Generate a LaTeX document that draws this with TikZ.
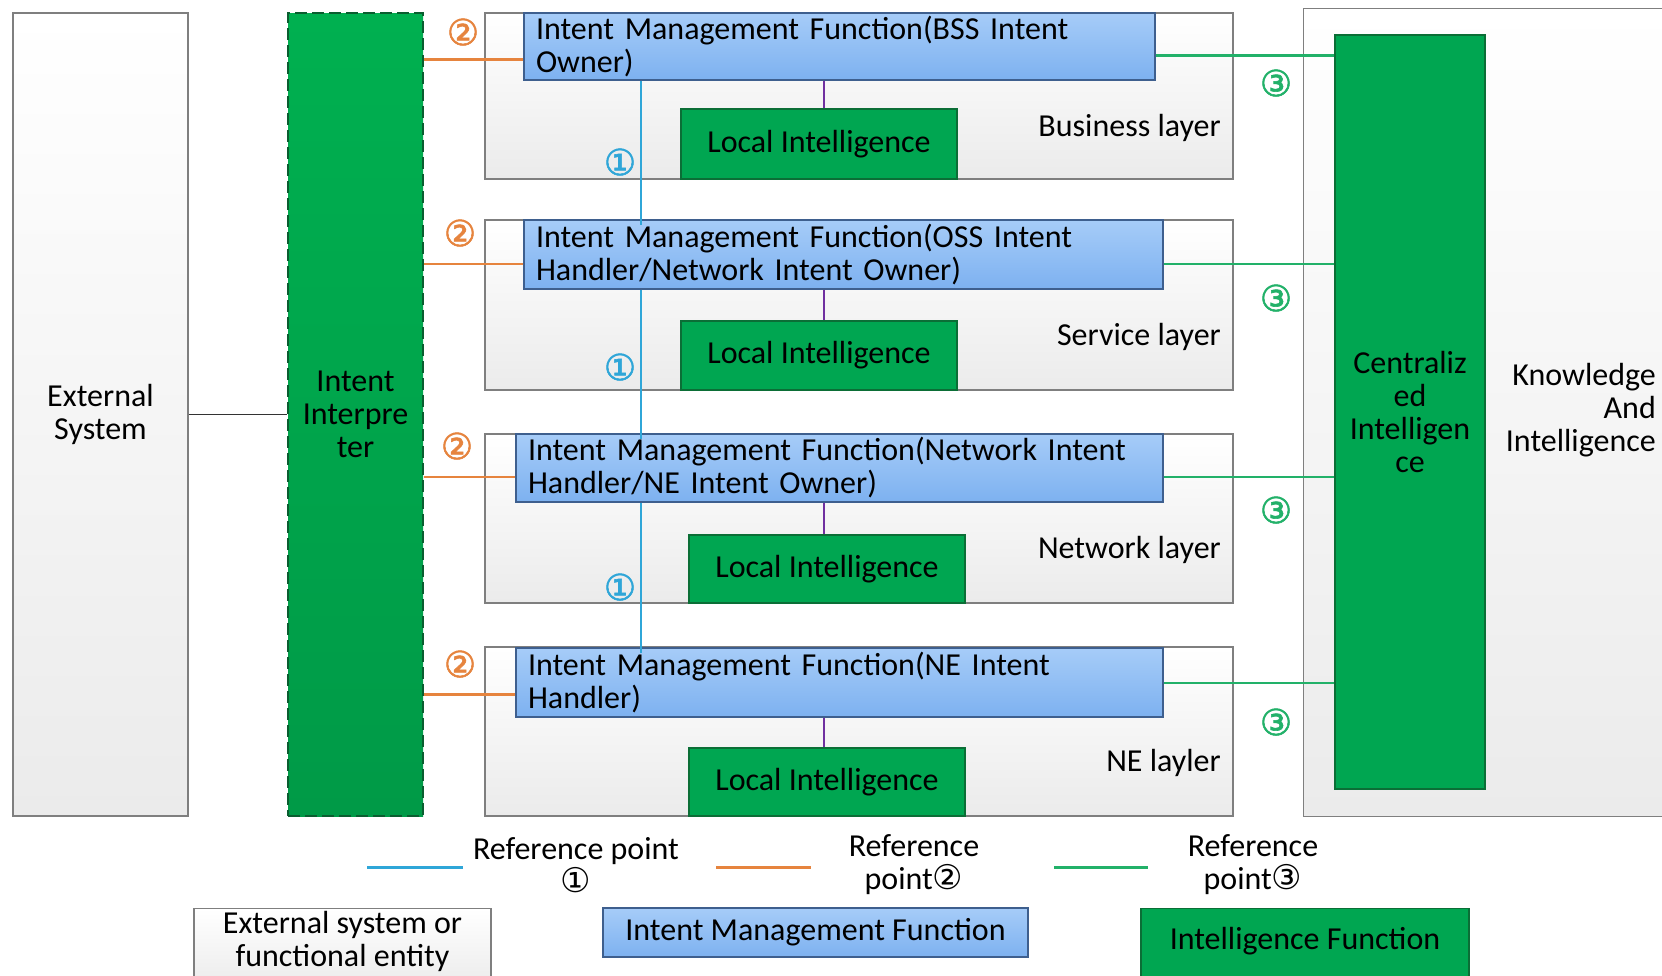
\documentclass[tikz,border=0pt]{standalone}
\usepackage{fontspec}
\setmainfont{Carlito}
\newfontfamily\circfont{DejaVu Sans}
\newfontfamily\circheavy[FakeBold=1.6]{DejaVu Sans}
\usetikzlibrary{calc}

\definecolor{boxedge}{HTML}{7F7F7F}
\definecolor{grayfoot}{HTML}{EBEBEB}
\definecolor{imftop}{HTML}{A6CCF8}
\definecolor{imfbot}{HTML}{7DB1F0}
\definecolor{imfedge}{HTML}{3E5F8E}
\definecolor{ligreen}{HTML}{00A651}
\definecolor{liedge}{HTML}{0B6E36}
\definecolor{iitop}{HTML}{00B050}
\definecolor{iibot}{HTML}{009A47}
\definecolor{iiedge}{HTML}{0A5E30}
\definecolor{refA}{HTML}{2FA6D8}
\definecolor{refB}{HTML}{E6843E}
\definecolor{refC}{HTML}{22B169}
\definecolor{linkpurple}{HTML}{7030A0}

\tikzset{
  graybox/.style={draw=boxedge, line width=1.3pt, top color=white, bottom color=grayfoot, inner sep=0pt},
  imfbox/.style={draw=imfedge, line width=1.3pt, top color=imftop, bottom color=imfbot,
    inner xsep=12pt, inner ysep=0pt, align=left},
  libox/.style={draw=liedge, line width=1.2pt, fill=ligreen, inner sep=0pt, align=center},
  iibox/.style={draw=iiedge, line width=1.5pt, dash pattern=on 12pt off 5pt,
    top color=iitop, bottom color=iibot, inner sep=0pt, align=center},
  lineA/.style={draw=refA, line width=2.3pt},
  lineB/.style={draw=refB, line width=2.3pt},
  lineC/.style={draw=refC, line width=2.3pt},
  linkP/.style={draw=linkpurple, line width=1.6pt},
  cnum/.style={font=\circheavy\fontsize{36}{36}\selectfont, inner sep=0pt},
  legline/.style={line width=3pt},
}

\begin{document}
\begin{tikzpicture}[x=1pt, y=-1pt, font=\fontsize{32}{33}\selectfont]
\useasboundingbox (0,0) rectangle (1662,975);
\fill[white] (0,0) rectangle (1662,975);

% outer entities
\node[graybox, minimum width=175pt, minimum height=803pt, align=center] (ext) at (100.5,414.5) {External\\System};
\node[iibox, minimum width=135pt, minimum height=803pt] (ii) at (355.5,414.5) {Intent\\Interpre\\ter};
\node[graybox, anchor=north west, minimum width=380pt, minimum height=808pt] (kai) at (1303,8) {};
\node[anchor=east, align=right, inner sep=0pt] (kaitxt) at (1656,410) {Knowledge\\And\\Intelligence};
\node[libox, minimum width=150pt, minimum height=754pt] (ci) at (1410,412) {Centraliz\\ed\\Intelligen\\ce};

% layer frames
\node[graybox, minimum width=748pt, minimum height=166pt] (lay1) at (859,96) {};
\node[graybox, minimum width=748pt, minimum height=170pt] (lay2) at (859,305) {};
\node[graybox, minimum width=748pt, minimum height=169pt] (lay3) at (859,518.5) {};
\node[graybox, minimum width=748pt, minimum height=169pt] (lay4) at (859,731.5) {};

\node[anchor=east, inner sep=0pt] (lbl1) at (1221,128) {Business layer};
\node[anchor=east, inner sep=0pt] (lbl2) at (1221,337) {Service layer};
\node[anchor=east, inner sep=0pt] (lbl3) at (1221,550) {Network layer};
\node[anchor=east, inner sep=0pt] (lbl4) at (1221,763) {NE layler};

% intent management functions
\node[imfbox, minimum width=631pt, minimum height=67pt, text width=607pt] (bss) at (839.5,46.5)
  {Intent Management Function(BSS Intent\\Owner)};
\node[imfbox, minimum width=639pt, minimum height=69pt, text width=615pt] (oss) at (843.5,254.5)
  {Intent Management Function(OSS Intent\\Handler/Network Intent Owner)};
\node[imfbox, minimum width=647pt, minimum height=68pt, text width=623pt] (net) at (839.5,468)
  {Intent Management Function(Network Intent\\Handler/NE Intent Owner)};
\node[imfbox, minimum width=647pt, minimum height=69pt, text width=623pt] (ne) at (839.5,682.5)
  {Intent Management Function(NE Intent\\Handler)};

% local intelligence
\node[libox, minimum width=276pt, minimum height=70pt] (li1) at (819,144) {Local Intelligence};
\node[libox, minimum width=276pt, minimum height=69pt] (li2) at (819,355.5) {Local Intelligence};
\node[libox, minimum width=276pt, minimum height=68pt] (li3) at (827,569) {Local Intelligence};
\node[libox, minimum width=276pt, minimum height=68pt] (li4) at (827,782) {Local Intelligence};

% IMF to local intelligence
\coordinate (px) at (824,0);
\draw[linkP] (px |- bss.south) -- (px |- li1.north);
\draw[linkP] (px |- oss.south) -- (px |- li2.north);
\draw[linkP] (px |- net.south) -- (px |- li3.north);
\draw[linkP] (px |- ne.south) -- (px |- li4.north);

% external system to interpreter
\draw[line width=1.8pt, draw=black!80] (ext.east) -- (ii.west);

% reference point 1: between IMFs
\coordinate (vx) at (641,0);
\draw[lineA] (vx |- bss.south) -- ($(vx |- oss.north)+(0,6)$);
\draw[lineA] (vx |- oss.south) -- ($(vx |- net.north)+(0,6)$);
\draw[lineA] (vx |- net.south) -- ($(vx |- ne.north)+(0,6)$);

% reference point 2: interpreter to IMFs
\draw[lineB] ($(bss.north west)!.69!(bss.south west)$) coordinate (o1) -- (o1 -| ii.east);
\draw[lineB] ($(oss.north west)!.64!(oss.south west)$) coordinate (o2) -- (o2 -| ii.east);
\draw[lineB] ($(net.north west)!.63!(net.south west)$) coordinate (o3) -- (o3 -| ii.east);
\draw[lineB] ($(ne.north west)!.67!(ne.south west)$) coordinate (o4) -- (o4 -| ii.east);

% reference point 3: IMFs to centralized intelligence
\draw[lineC] ($(bss.north east)!.63!(bss.south east)$) coordinate (g1) -- (g1 -| ci.west);
\draw[lineC] ($(oss.north east)!.64!(oss.south east)$) coordinate (g2) -- (g2 -| ci.west);
\draw[lineC] ($(net.north east)!.63!(net.south east)$) coordinate (g3) -- (g3 -| ci.west);
\draw[lineC] ($(ne.north east)!.51!(ne.south east)$) coordinate (g4) -- (g4 -| ci.west);

% reference point markers
\node[cnum, text=refA] (a1) at (620,162) {①};
\node[cnum, text=refA] (a2) at (620,367) {①};
\node[cnum, text=refA] (a3) at (620,587) {①};
\node[cnum, text=refB] (b1) at (463,32) {②};
\node[cnum, text=refB] (b2) at (460,233) {②};
\node[cnum, text=refB] (b3) at (457,446) {②};
\node[cnum, text=refB] (b4) at (460,664) {②};
\node[cnum, text=refC] (c1) at (1276,83) {③};
\node[cnum, text=refC] (c2) at (1276,298) {③};
\node[cnum, text=refC] (c3) at (1276,510) {③};
\node[cnum, text=refC] (c4) at (1276,722) {③};

% legend
\coordinate (kA1) at (367,867); \coordinate (kA2) at (463,867);
\coordinate (kB1) at (716,867); \coordinate (kB2) at (811,867);
\coordinate (kC1) at (1054,867); \coordinate (kC2) at (1148,867);
\draw[legline, draw=refA] (kA1) -- (kA2);
\draw[legline, draw=refB] (kB1) -- (kB2);
\draw[legline, draw=refC] (kC1) -- (kC2);
\node[align=center, inner sep=0pt] (tA) at (576,865) {Reference point\\{\circfont\fontsize{34}{33}\selectfont ①}};
\node[align=center, inner sep=0pt] (tB) at (914,865) {Reference\\point{\circfont\fontsize{34}{33}\selectfont ②}};
\node[align=center, inner sep=0pt] (tC) at (1253,865) {Reference\\point{\circfont\fontsize{34}{33}\selectfont ③}};

\node[graybox, minimum width=297pt, minimum height=80pt, anchor=north] (kext) at (342.5,908) {};
\node[align=center, inner sep=0pt] (kexttxt) at (342.5,941) {External system or\\functional entity};
\node[imfbox, minimum width=425pt, minimum height=49pt, align=center] (kimf) at (815.5,932.5) {Intent Management Function};
\node[libox, minimum width=328pt, minimum height=80pt, anchor=north] (kli) at (1305,908) {};
\node[inner sep=0pt] (klitxt) at (1305,941) {Intelligence Function};
\end{tikzpicture}
\end{document}
